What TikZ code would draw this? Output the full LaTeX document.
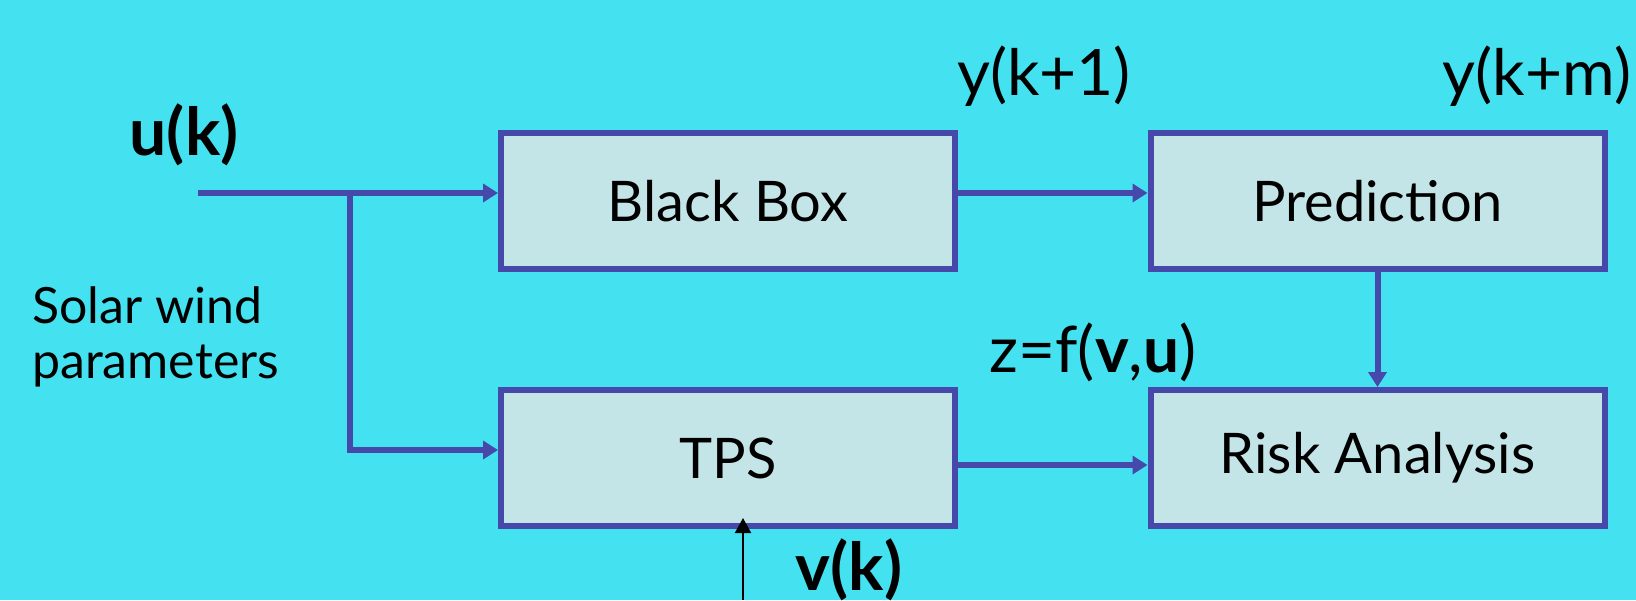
\documentclass[tikz,border=0pt]{standalone}
\usepackage{fontspec}
\setmainfont{Lato}
\usetikzlibrary{arrows.meta}
\definecolor{skybg}{RGB}{68,226,240}
\definecolor{boxfill}{RGB}{196,229,232}
\definecolor{wireblue}{RGB}{70,72,170}
\tikzset{
  block/.style={draw=wireblue, fill=boxfill, line width=6pt, minimum width=454pt,
    minimum height=136pt, inner sep=0pt, font=\fontsize{56}{66}\selectfont},
  wire/.style={draw=wireblue, line width=6pt, -{Triangle[length=15pt,width=18pt]}},
  thinwire/.style={draw=black, line width=2pt, -{Triangle[length=15pt,width=16pt]}},
  lbl/.style={inner sep=0pt, font=\fontsize{64}{74}\selectfont},
}
\begin{document}
\begin{tikzpicture}[x=1pt, y=-1pt]
      \fill[skybg] (0,0) rectangle (1636,600);          % background
      \useasboundingbox (0,0) rectangle (1636,600);
      %
      \node[block] (bbox) at (728,201) {Black Box};      % top row
      \node[block] (pred) at (1377.5,201) {Prediction};
      %
      \node[block] (tps) at (728,458) {TPS};             % bottom row
      \node[block] (risk) at (1377.5,458) {Risk Analysis};
      %
      \coordinate (uin) at (198,193);                    % wire points
      \coordinate (split) at (350,193);
      \coordinate (tpsin) at (350,450);
      \coordinate (tpsout) at (0,465);
      \coordinate (vin) at (743,600);
      \coordinate (vtip) at (743,518);
      %
      \draw[wire] (uin) -- (uin -| bbox.west);           % inputs
      \draw[wire] (split) -- (tpsin) -- (tpsin -| tps.west);
      \draw[thinwire] (vin) -- (vtip);
      %%
      \draw[wire] (bbox.east |- uin) -- (pred.west |- uin);   % outputs
      \draw[wire] (pred.south) -- (risk.north);
      \draw[wire] (tps.east |- tpsout) -- (risk.west |- tpsout);
      %
      \node[lbl, font=\fontsize{66}{76}\selectfont\bfseries] (ulbl) at (184,135) {u(k)};   % labels
      \node[inner sep=0pt, align=left, anchor=west, font=\fontsize{50}{55}\selectfont]
        (solar) at (32,337) {Solar wind\\parameters};
      \node[lbl] (y1lbl) at (1044,76) {y(k+1)};
      \node[lbl] (ymlbl) at (1537,76) {y(k+m)};
      \node[lbl] (zlbl) at (1093,352) {z=f(\textbf{v},\textbf{u})};
      \node[lbl, font=\fontsize{66}{76}\selectfont\bfseries, anchor=north] (vlbl) at (849,538) {v(k)};
      %
\end{tikzpicture}
\end{document}
